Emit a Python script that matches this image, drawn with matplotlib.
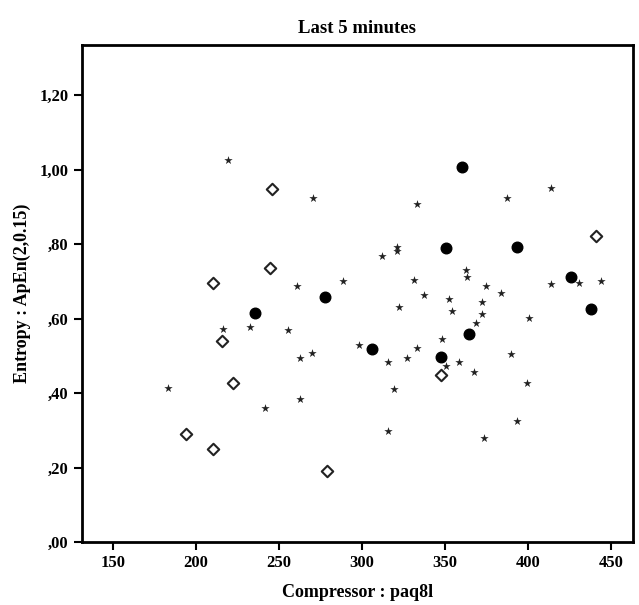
import matplotlib
matplotlib.use("Agg")
import matplotlib.pyplot as plt

# filled circles
circle_x = [235.4, 277.5, 305.7, 347.2, 359.9, 350.2, 364.1, 392.9, 425.4, 437.4]
circle_y = [0.615, 0.658, 0.518, 0.497, 1.007, 0.789, 0.558, 0.792, 0.711, 0.626]

# open diamonds
diamond_x = [245.6, 244.4, 210.1, 215.5, 222.2, 193.9, 210.1, 278.7, 347.2, 440.4]
diamond_y = [0.948, 0.736, 0.695, 0.540, 0.427, 0.290, 0.250, 0.191, 0.448, 0.821]

# stars
star_x = [219.2, 270.3, 332.8, 320.8, 320.8, 311.8, 362.3, 362.9, 260.6, 288.3,
          331.0, 337.0, 352.0, 353.8, 322.0, 255.2, 216.1, 232.4, 368.3, 347.8,
          386.9, 413.4, 374.3, 383.3, 413.4, 430.2, 443.4, 371.9, 371.9, 400.1,
          183.1, 241.4, 297.9, 332.8, 350.2, 358.1, 367.1, 262.4, 269.7, 315.4,
          326.8, 319.0, 262.4, 315.4, 389.3, 398.9, 392.9, 373.1]
star_y = [1.026, 0.923, 0.907, 0.792, 0.781, 0.768, 0.730, 0.711, 0.687, 0.701,
          0.703, 0.663, 0.652, 0.620, 0.631, 0.569, 0.572, 0.577, 0.588, 0.545,
          0.923, 0.950, 0.687, 0.668, 0.693, 0.695, 0.701, 0.644, 0.612, 0.601,
          0.413, 0.360, 0.529, 0.521, 0.472, 0.483, 0.456, 0.494, 0.507, 0.483,
          0.494, 0.411, 0.384, 0.298, 0.505, 0.427, 0.325, 0.279]

x_ticks = [150, 200, 250, 300, 350, 400, 450]
y_ticks = [0.0, 0.2, 0.4, 0.6, 0.8, 1.0, 1.2]
y_tick_labels = [",00", ",20", ",40", ",60", ",80", "1,00", "1,20"]

plt.rcParams['font.family'] = ['Liberation Serif', 'DejaVu Serif']
plt.rcParams['font.weight'] = 'bold'

fig = plt.figure(figsize=(6.39, 6.05), dpi=100)
ax = fig.add_axes([0.128, 0.104, 0.862, 0.821])

ax.scatter(star_x, star_y, marker='*', s=40, color='#222222', linewidths=0, zorder=3)
ax.scatter(diamond_x, diamond_y, marker='D', s=34, facecolors='white',
           edgecolors='#222222', linewidths=1.5, zorder=3)
ax.scatter(circle_x, circle_y, marker='o', s=58, color='black', zorder=4)

ax.set_xlim(131.4, 462.7)
ax.set_ylim(0, 1.334)
ax.set_xticks(x_ticks)
ax.set_xticklabels([str(t) for t in x_ticks])
ax.set_yticks(y_ticks)
ax.set_yticklabels(y_tick_labels)

for spine in ax.spines.values():
    spine.set_linewidth(2)
ax.tick_params(axis='both', length=6, width=1.5, labelsize=12, direction='out')
for lbl in ax.get_xticklabels() + ax.get_yticklabels():
    lbl.set_fontweight('bold')

ax.set_title("Last 5 minutes", fontsize=13.5, fontweight='bold', pad=9)
ax.set_xlabel("Compressor : paq8l", fontsize=13, fontweight='bold', labelpad=9)
ax.set_ylabel("Entropy : ApEn(2,0.15)", fontsize=13, fontweight='bold', labelpad=6)

fig.savefig("out.png", dpi=100)
